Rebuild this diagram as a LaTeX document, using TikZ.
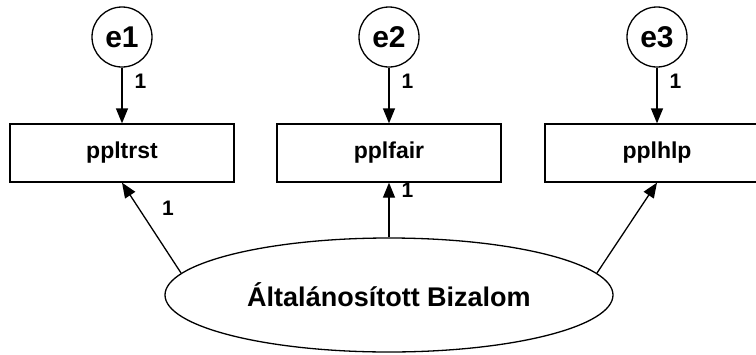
\documentclass[tikz,border=0pt]{standalone}
\usepackage{fontspec}
\setmainfont{Liberation Sans}
\usetikzlibrary{shapes.geometric,arrows.meta}

\begin{document}
\begin{tikzpicture}[x=1pt,y=-1pt,
	errstyle/.style={circle,draw,line width=1.3pt,minimum size=60pt,inner sep=0pt,font=\bfseries\fontsize{30}{30}\selectfont},
	boxstyle/.style={rectangle,draw,line width=1.3pt,minimum width=224pt,minimum height=58pt,inner sep=0pt,font=\bfseries\fontsize{23}{24}\selectfont},
	latentstyle/.style={ellipse,draw,line width=1.3pt,minimum width=448pt,minimum height=114pt,inner sep=0pt,font=\bfseries\fontsize{27}{28}\selectfont},
	weight/.style={font=\bfseries\fontsize{21}{21}\selectfont,inner sep=0pt},
	arr/.style={line width=1.3pt,-{Triangle[length=15pt,width=12pt]}}]
	\clip (0,0) rectangle (756,354);

	\node [latentstyle] (bizalom) at (389,295) {Általánosított Bizalom};

	\foreach \n/\x/\var in {1/122/ppltrst,2/389/pplfair,3/657/pplhlp}
		{\node [errstyle] (e\n) at (\x,37) {e\n};
		 \node [boxstyle] (v\n) at (\x,153) {\var};
		 \draw[arr] (e\n) -- node[weight,pos=0.24,right=12pt] {1} (v\n);}

	\draw[arr] (bizalom.174) -- node[weight,pos=0.72,right=23pt] {1} (v1.south);
	\draw[arr] (bizalom.north) -- node[weight,pos=0.86,right=12pt] {1} (v2.south);
	\draw[arr] (bizalom.6) -- (v3.south);
\end{tikzpicture}
\end{document}
